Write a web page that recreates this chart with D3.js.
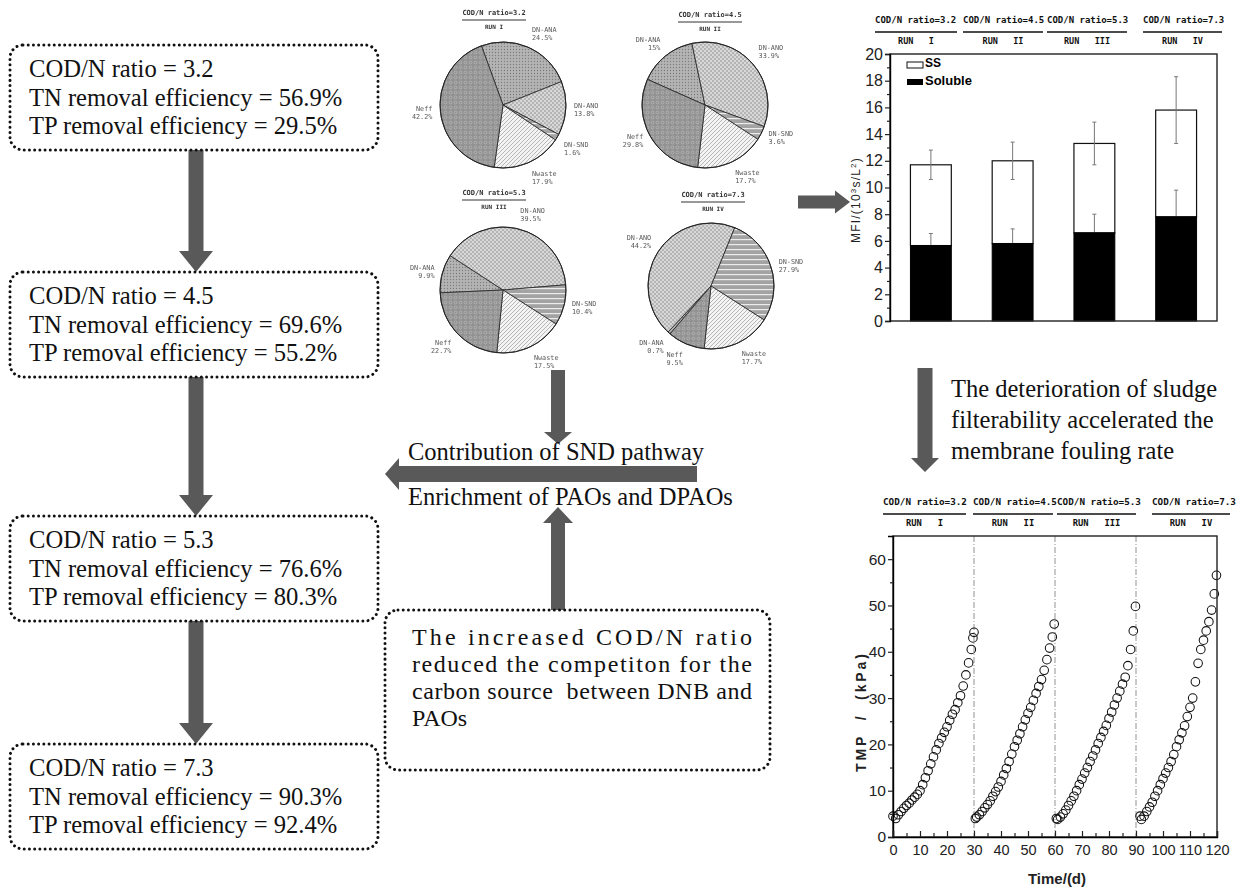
<!DOCTYPE html>
<html>
<head>
<meta charset="utf-8">
<script src="https://cdn.jsdelivr.net/npm/d3@7"></script>
<style>
  body { margin: 0; background: #fff; }
  svg { display: block; }
  .mono-gray { filter: grayscale(1); }
</style>
</head>
<body>
<svg id="fig" width="1247" height="891"></svg>
<script>
// ---------- data ----------
const codRatios = [3.2, 4.5, 5.3, 7.3];
const tnRemoval = [56.9, 69.6, 76.6, 90.3];
const tpRemoval = [29.5, 55.2, 80.3, 92.4];
const runNames = ["RUN   I", "RUN   II", "RUN   III", "RUN   IV"];

// nitrogen pathway shares (%) for each run
const pathwayNames = ["DN-ANA", "DN-ANO", "DN-SND", "Nwaste", "Neff"];
const pathwayRun1 = [24.5, 13.8, 1.6, 17.9, 42.2];
const pathwayRun2 = [15, 33.9, 3.6, 17.7, 29.8];
const pathwayRun3 = [9.9, 39.5, 10.4, 17.5, 22.7];
const pathwayRun4 = [0.7, 44.2, 27.9, 17.7, 9.5];

// modified fouling index, 10^3 s/L^2
const mfiSoluble = [5.65, 5.8, 6.6, 7.8];
const mfiSolubleErr = [0.9, 1.1, 1.4, 2.0];
const mfiSS = [6.05, 6.2, 6.7, 8.0];
const mfiTotalErr = [1.1, 1.4, 1.6, 2.5];
const mfiTicks = [0, 2, 4, 6, 8, 10, 12, 14, 16, 18, 20];

// trans-membrane pressure (day, kPa)
const tmpRun1 = [[0,4.5],[1,4.0],[2,4.8],[3,5.5],[4,6.2],[5,6.8],[6,7.3],[7,8.0],[8,8.6],[9,9.2],[10,10.0],[11,11.3],[12,12.8],[13,14.3],[14,15.8],[15,17.3],[16,18.8],[17,20.2],[18,21.4],[19,22.6],[20,23.8],[21,25.2],[22,26.5],[23,27.5],[24,29.0],[25,30.5],[26,32.6],[27,35.0],[28,37.6],[29,40.5],[29.6,43.0],[30,44.2]];
const tmpRun2 = [[30.5,4.0],[31,4.3],[32,4.8],[33,5.5],[34,6.3],[35,7.0],[36,7.8],[37,8.8],[38,9.8],[39,10.8],[40,12.0],[41,13.4],[42,14.8],[43,16.3],[44,17.9],[45,19.5],[46,20.9],[47,22.3],[48,23.8],[49,25.3],[50,26.7],[51,28.0],[52,29.5],[53,31.0],[54,32.5],[55,34.0],[56,36.0],[57,38.3],[58,40.8],[59,43.2],[59.7,46.0]];
const tmpRun3 = [[60.5,4.0],[61,3.8],[62,4.3],[63,5.0],[64,5.8],[65,6.8],[66,7.8],[67,8.8],[68,10.0],[69,11.3],[70,12.5],[71,13.8],[72,15.0],[73,16.3],[74,17.5],[75,18.8],[76,20.2],[77,21.5],[78,22.8],[79,24.1],[80,25.6],[81,27.0],[82,28.5],[83,30.0],[84,31.5],[85,33.0],[86,34.5],[87,37.0],[88,40.5],[89,44.5],[89.8,49.8]];
const tmpRun4 = [[91.5,4.5],[92,3.8],[93,4.5],[94,5.5],[95,6.5],[96,7.5],[97,8.8],[98,10.0],[99,11.3],[100,12.6],[101,13.8],[102,15.0],[103,16.3],[104,17.8],[105,19.5],[106,21.0],[107,22.5],[108,24.0],[109,26.0],[110,28.0],[111,30.0],[112,33.5],[113,37.5],[114,40.5],[115,42.5],[116,44.5],[117,46.5],[118,49.0],[119,52.5],[119.8,56.5]];
const runBoundaries = [30, 60, 90];
const tmpTicks = [0, 10, 20, 30, 40, 50, 60];
const dayTicks = [0, 10, 20, 30, 40, 50, 60, 70, 80, 90, 100, 110, 120];

// ---------- setup ----------
const svg = d3.select("#fig");
const defs = svg.append("defs");
const ARROW = "#595959";
const SERIF = "'Liberation Serif','Times New Roman',serif";
const SANS = "'Liberation Sans',Arial,sans-serif";
const MONO = "'DejaVu Sans Mono',monospace";

function blockArrow(x1, y1, x2, y2, shaftW, headW, headL) {
  const dx = x2 - x1, dy = y2 - y1, len = Math.hypot(dx, dy);
  const ux = dx / len, uy = dy / len, px = -uy, py = ux;
  const bx = x2 - ux * headL, by = y2 - uy * headL;
  const pts = [
    [x1 + px * shaftW / 2, y1 + py * shaftW / 2],
    [bx + px * shaftW / 2, by + py * shaftW / 2],
    [bx + px * headW / 2, by + py * headW / 2],
    [x2, y2],
    [bx - px * headW / 2, by - py * headW / 2],
    [bx - px * shaftW / 2, by - py * shaftW / 2],
    [x1 - px * shaftW / 2, y1 - py * shaftW / 2]
  ];
  svg.append("polygon").attr("points", pts.map(p => p.join(",")).join(" ")).attr("fill", ARROW);
}

function dottedBox(x, y, w, h) {
  svg.append("rect").attr("x", x).attr("y", y).attr("width", w).attr("height", h)
    .attr("rx", 13).attr("fill", "#fff").attr("stroke", "#111")
    .attr("stroke-width", 3).attr("stroke-dasharray", "0.01 5.2").attr("stroke-linecap", "round");
}

// ---------- arrows ----------
const boxTops = [45, 272, 516, 744];
const boxH = 105;
for (let i = 0; i < 3; i++) blockArrow(196, boxTops[i] + boxH, 196, boxTops[i + 1], 15, 34, 21);
blockArrow(558, 370, 558, 444, 14, 28, 12);
blockArrow(697, 474, 385, 474, 16, 32, 14);
blockArrow(558, 612, 558, 507, 14, 30, 16);
blockArrow(798, 202, 850, 202, 13, 23, 15);
blockArrow(925, 368, 925, 472, 15, 28, 14);

// ---------- left column: stage summaries ----------
codRatios.forEach((r, i) => {
  const top = boxTops[i];
  dottedBox(10, top, 368, boxH);
  const lines = [
    `COD/N ratio = ${r}`,
    `TN removal efficiency = ${tnRemoval[i]}%`,
    `TP removal efficiency = ${tpRemoval[i]}%`
  ];
  svg.append("g").selectAll("text").data(lines).join("text")
    .attr("x", 29).attr("y", (d, j) => top + 32 + j * 28.5)
    .attr("font-family", SERIF).attr("font-size", 24.6).attr("fill", "#111")
    .text(d => d);
});

// ---------- middle texts ----------
svg.append("text").attr("x", 408).attr("y", 460).attr("font-family", SERIF).attr("font-size", 24.5)
  .attr("fill", "#111").text("Contribution of SND pathway");
svg.append("text").attr("x", 408).attr("y", 505).attr("font-family", SERIF).attr("font-size", 24.5)
  .attr("fill", "#111").text("Enrichment of PAOs and DPAOs");

dottedBox(385, 610, 385, 160);
const causeLines = ["The increased COD/N ratio", "reduced the competiton for the", "carbon source  between DNB and", "PAOs"];
svg.append("g").selectAll("text").data(causeLines).join("text")
  .attr("x", 412).attr("y", (d, j) => 645 + j * 27)
  .attr("font-family", SERIF).attr("font-size", 24).attr("fill", "#111")
  .attr("xml:space", "preserve").style("white-space", "pre")
  .each(function (d, j) { if (j < 3) d3.select(this).attr("textLength", 340).attr("lengthAdjust", "spacing"); })
  .text(d => d);

const effectLines = ["The deterioration of sludge", "filterability accelerated the", "membrane fouling rate"];
svg.append("g").selectAll("text").data(effectLines).join("text")
  .attr("x", 951).attr("y", (d, j) => 397 + j * 31)
  .attr("font-family", SERIF).attr("font-size", 24.5).attr("fill", "#111")
  .text(d => d);

// ---------- pie fill patterns ----------
function pattern(id, w, h, bg) {
  const p = defs.append("pattern").attr("id", id).attr("patternUnits", "userSpaceOnUse").attr("width", w).attr("height", h);
  p.append("rect").attr("width", w).attr("height", h).attr("fill", bg);
  return p;
}
let pt = pattern("pANA", 3, 3, "#b4b4b4");
pt.append("circle").attr("cx", 1.5).attr("cy", 1.5).attr("r", 0.7).attr("fill", "#7d7d7d");
pt = pattern("pANO", 4, 4, "#d8d8d8");
pt.append("path").attr("d", "M0,0L4,4M4,0L0,4").attr("stroke", "#9c9c9c").attr("stroke-width", 0.6);
pt = pattern("pSND", 4, 5, "#a3a3a3");
pt.append("rect").attr("y", 3).attr("width", 4).attr("height", 1.2).attr("fill", "#ececec");
pt = pattern("pWaste", 4, 4, "#f4f4f4");
pt.append("path").attr("d", "M0,4L4,0M-1,1L1,-1M3,5L5,3").attr("stroke", "#8a8a8a").attr("stroke-width", 0.6);
pt = pattern("pEff", 5, 5, "#929292");
pt.append("circle").attr("cx", 2.5).attr("cy", 2.5).attr("r", 1.4).attr("fill", "none").attr("stroke", "#c0c0c0").attr("stroke-width", 0.6);
const pathwayFill = ["url(#pANA)", "url(#pANO)", "url(#pSND)", "url(#pWaste)", "url(#pEff)"];

// ---------- pies ----------
const pieR = 63;
const pieSets = [pathwayRun1, pathwayRun2, pathwayRun3, pathwayRun4];
const pieLayout = [
  { cx: 503, cy: 105, start: -20, tx: 494, ty: 15 },
  { cx: 705, cy: 105, start: -66, tx: 710, ty: 17 },
  { cx: 503, cy: 290, start: -92.6, tx: 494, ty: 195 },
  { cx: 711, cy: 286, start: -139.5, tx: 713, ty: 197 }
];
const arcGen = d3.arc().innerRadius(0).outerRadius(pieR);
const pieLayer = svg.append("g").attr("class", "mono-gray");
pieSets.forEach((vals, k) => {
  const L = pieLayout[k];
  const a0 = L.start * Math.PI / 180;
  const pie = d3.pie().sort(null).startAngle(a0).endAngle(a0 + 2 * Math.PI);
  const arcs = pie(vals);
  const g = pieLayer.append("g").attr("transform", `translate(${L.cx},${L.cy})`);
  g.selectAll("path").data(arcs).join("path")
    .attr("d", arcGen).attr("fill", (d, i) => pathwayFill[i])
    .attr("stroke", "#222").attr("stroke-width", 0.8);
  g.append("circle").attr("r", pieR).attr("fill", "none").attr("stroke", "#222").attr("stroke-width", 1);
  arcs.forEach((a, i) => {
    const m = (a.startAngle + a.endAngle) / 2;
    const s = Math.sin(m), down = -Math.cos(m);
    const lx = s * (pieR + 8), ly = down * (pieR + 8);
    const anchor = s > 0.15 ? "start" : (s < -0.15 ? "end" : "middle");
    const y0 = down < -0.5 ? ly - 8 : (down > 0.5 ? ly + 6 : ly - 1);
    const t = g.append("text").attr("font-family", MONO).attr("font-size", 6.8)
      .attr("fill", "#5a5a5a").attr("text-anchor", anchor);
    t.append("tspan").attr("x", lx).attr("y", y0).text(pathwayNames[i]);
    t.append("tspan").attr("x", lx).attr("y", y0 + 8).text(`${vals[i]}%`);
  });
  // run header above each pie
  pieLayer.append("text").attr("x", L.tx).attr("y", L.ty).attr("text-anchor", "middle")
    .attr("font-family", MONO).attr("font-size", 7).attr("font-weight", "bold").attr("fill", "#333")
    .text(`COD/N ratio=${codRatios[k]}`);
  pieLayer.append("line").attr("x1", L.tx - 32).attr("x2", L.tx + 32).attr("y1", L.ty + 5).attr("y2", L.ty + 5)
    .attr("stroke", "#333").attr("stroke-width", 1);
  pieLayer.append("text").attr("x", L.tx).attr("y", L.ty + 14).attr("text-anchor", "middle")
    .attr("font-family", MONO).attr("font-size", 6).attr("font-weight", "bold").attr("fill", "#333")
    .style("white-space", "pre").text(runNames[k].replace("   ", " "));
});

// ---------- run headers for the two charts ----------
function runHeader(segs, yTitle, fontSize) {
  segs.forEach((s, i) => {
    svg.append("text").attr("x", s[0]).attr("y", yTitle)
      .attr("font-family", MONO).attr("font-size", fontSize).attr("font-weight", "bold").attr("fill", "#111")
      .text(`COD/N ratio=${codRatios[i]}`);
    svg.append("line").attr("x1", s[0]).attr("x2", s[1]).attr("y1", yTitle + 9).attr("y2", yTitle + 9)
      .attr("stroke", "#111").attr("stroke-width", 1.6);
    svg.append("text").attr("x", (s[0] + s[1]) / 2).attr("y", yTitle + 21).attr("text-anchor", "middle")
      .attr("font-family", MONO).attr("font-size", fontSize - 0.5).attr("font-weight", "bold").attr("fill", "#111")
      .style("white-space", "pre").text(runNames[i]);
  });
}

// ---------- MFI stacked bar chart ----------
const mfiX = d3.scaleBand().domain(runNames).range([890, 1217]).paddingInner(0.5).paddingOuter(0.25);
const mfiY = d3.scaleLinear().domain([0, 20]).range([321, 54]);
runHeader([[875, 957], [963, 1043], [1047, 1127], [1143, 1222]], 23, 9);

const bars = svg.append("g");
runNames.forEach((r, i) => {
  const x = mfiX(r), w = mfiX.bandwidth(), cx = x + w / 2;
  const total = mfiSoluble[i] + mfiSS[i];
  // SS part (white) stacked on soluble part (black)
  bars.append("rect").attr("x", x).attr("width", w).attr("y", mfiY(total)).attr("height", mfiY(mfiSoluble[i]) - mfiY(total))
    .attr("fill", "#fff").attr("stroke", "#111").attr("stroke-width", 1.2);
  // error bar on total
  bars.append("line").attr("x1", cx).attr("x2", cx).attr("y1", mfiY(total - mfiTotalErr[i])).attr("y2", mfiY(total + mfiTotalErr[i]))
    .attr("stroke", "#777").attr("stroke-width", 1);
  [total - mfiTotalErr[i], total + mfiTotalErr[i]].forEach(v =>
    bars.append("line").attr("x1", cx - 2).attr("x2", cx + 2).attr("y1", mfiY(v)).attr("y2", mfiY(v)).attr("stroke", "#777").attr("stroke-width", 1));
  bars.append("line").attr("x1", cx).attr("x2", cx).attr("y1", mfiY(mfiSoluble[i])).attr("y2", mfiY(mfiSoluble[i] + mfiSolubleErr[i]))
    .attr("stroke", "#777").attr("stroke-width", 1);
  bars.append("line").attr("x1", cx - 2).attr("x2", cx + 2).attr("y1", mfiY(mfiSoluble[i] + mfiSolubleErr[i])).attr("y2", mfiY(mfiSoluble[i] + mfiSolubleErr[i]))
    .attr("stroke", "#777").attr("stroke-width", 1);
  bars.append("rect").attr("x", x).attr("width", w).attr("y", mfiY(mfiSoluble[i])).attr("height", mfiY(0) - mfiY(mfiSoluble[i]))
    .attr("fill", "#000").attr("stroke", "#000").attr("stroke-width", 1);
});
// frame
svg.append("rect").attr("x", 890).attr("y", 54).attr("width", 327).attr("height", 267)
  .attr("fill", "none").attr("stroke", "#222").attr("stroke-width", 1.4);
// y axis
const mfiAxis = svg.append("g").attr("transform", "translate(890,0)")
  .call(d3.axisLeft(mfiY).tickValues(mfiTicks).tickSize(5).tickPadding(2));
svg.append("g").attr("transform", "translate(890,0)")
  .call(d3.axisLeft(mfiY).tickValues(d3.range(1, 20, 2)).tickSize(3).tickFormat(""))
  .call(g => g.select(".domain").remove());
mfiAxis.select(".domain").attr("stroke-width", 1.4);
svg.selectAll(".tick line").attr("stroke", "#222").attr("stroke-width", 1.2);
mfiAxis.selectAll("text").attr("font-family", SANS).attr("font-size", 16).attr("fill", "#222");
// legend
svg.append("rect").attr("x", 907).attr("y", 62).attr("width", 16).attr("height", 6).attr("fill", "#fff").attr("stroke", "#111");
svg.append("text").attr("x", 925).attr("y", 67).attr("font-family", SANS).attr("font-size", 12).attr("font-weight", "bold").text("SS");
svg.append("rect").attr("x", 907).attr("y", 79).attr("width", 16).attr("height", 6).attr("fill", "#000");
svg.append("text").attr("x", 925).attr("y", 85).attr("font-family", SANS).attr("font-size", 13).attr("font-weight", "bold").text("Soluble");
// y label
const mfiLabel = svg.append("text").attr("transform", "translate(860,200) rotate(-90)").attr("text-anchor", "middle")
  .attr("font-family", SANS).attr("font-size", 12).attr("fill", "#222").attr("letter-spacing", 1.2);
mfiLabel.append("tspan").text("MFI/(10");
mfiLabel.append("tspan").attr("dy", -4).attr("font-size", 8).text("3");
mfiLabel.append("tspan").attr("dy", 4).text("s/L");
mfiLabel.append("tspan").attr("dy", -4).attr("font-size", 8).text("2");
mfiLabel.append("tspan").attr("dy", 4).text(")");

// ---------- TMP chart ----------
const tX = d3.scaleLinear().domain([0, 120]).range([893, 1217]);
const tY = d3.scaleLinear().domain([0, 65]).range([837, 536]);
runHeader([[883, 966], [973, 1053], [1057, 1136], [1152, 1230]], 505, 9.3);

svg.append("g").selectAll("line").data(runBoundaries).join("line")
  .attr("x1", d => tX(d)).attr("x2", d => tX(d)).attr("y1", tY(65)).attr("y2", tY(0))
  .attr("stroke", "#777").attr("stroke-width", 0.8).attr("stroke-dasharray", "6 2 1 2");

const tmpPoints = [...tmpRun1, ...tmpRun2, ...tmpRun3, ...tmpRun4];
svg.append("g").selectAll("circle").data(tmpPoints).join("circle")
  .attr("cx", d => tX(d[0])).attr("cy", d => tY(d[1])).attr("r", 4.3)
  .attr("fill", "none").attr("stroke", "#111").attr("stroke-width", 1.05);

svg.append("rect").attr("x", 893).attr("y", 536).attr("width", 324).attr("height", 301)
  .attr("fill", "none").attr("stroke", "#222").attr("stroke-width", 1.4);
const tYAxis = svg.append("g").attr("transform", "translate(893,0)")
  .call(d3.axisLeft(tY).tickValues(tmpTicks).tickSize(5).tickPadding(2));
svg.append("g").attr("transform", "translate(893,0)")
  .call(d3.axisLeft(tY).tickValues([5, 15, 25, 35, 45, 55]).tickSize(3).tickFormat(""))
  .call(g => g.select(".domain").remove());
const tXAxis = svg.append("g").attr("transform", "translate(0,837)")
  .call(d3.axisBottom(tX).tickValues(dayTicks).tickSize(-6).tickPadding(8));
svg.append("g").attr("transform", "translate(0,837)")
  .call(d3.axisBottom(tX).tickValues(d3.range(5, 120, 10)).tickSize(-4).tickFormat(""))
  .call(g => g.select(".domain").remove());
svg.selectAll(".tick line").attr("stroke", "#222").attr("stroke-width", 1.2);
tYAxis.select(".domain").attr("stroke-width", 1.4);
tXAxis.select(".domain").attr("stroke-width", 1.4);
tYAxis.selectAll("text").attr("font-family", SANS).attr("font-size", 15.5).attr("fill", "#222");
tXAxis.selectAll("text").attr("font-family", SANS).attr("font-size", 14.5).attr("fill", "#222");
svg.append("text").attr("transform", "translate(866,713) rotate(-90)").attr("text-anchor", "middle")
  .attr("font-family", SANS).attr("font-size", 14).attr("font-weight", "bold").attr("fill", "#222")
  .attr("textLength", 118).attr("lengthAdjust", "spacing").style("white-space", "pre")
  .text("TMP  /  (kPa)");
svg.append("text").attr("x", 1057).attr("y", 884).attr("text-anchor", "middle")
  .attr("font-family", SANS).attr("font-size", 15).attr("font-weight", "bold").attr("fill", "#222")
  .text("Time/(d)");
</script>
</body>
</html>
